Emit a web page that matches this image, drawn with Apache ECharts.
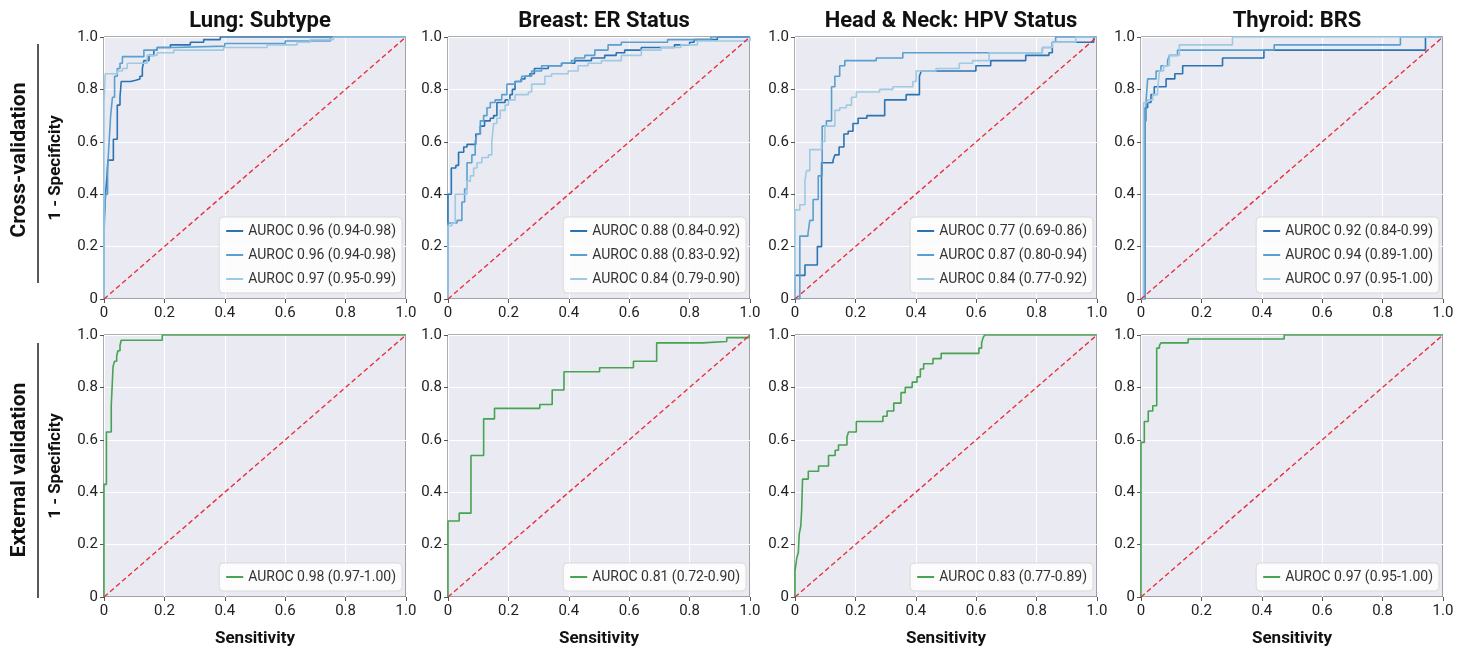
<!DOCTYPE html>
<html>
<head>
<meta charset="utf-8">
<script src="https://cdn.jsdelivr.net/npm/echarts@6/dist/echarts.min.js"></script>
<style>html,body{margin:0;padding:0;background:#fff}#c{width:1473px;height:652px}</style>
</head>
<body>
<div id="c"></div>
<script>
// ---------- data ----------
const panelTitles = ['Lung: Subtype', 'Breast: ER Status', 'Head & Neck: HPV Status', 'Thyroid: BRS'];
const rowTitles = ['Cross-validation', 'External validation'];
const tickValues = [0, 0.2, 0.4, 0.6, 0.8, 1.0];
const diagX = [0, 1];
const diagY = [0, 1];

// Lung CV
const lungCV1_fpr = [0, 0.005, 0.01, 0.013, 0.031, 0.044, 0.053, 0.057, 0.088, 0.105, 0.119, 0.127, 0.132, 0.149, 0.165, 0.176, 0.22, 0.286, 0.33, 0.385];
const lungCV1_tpr = [0.3, 0.4, 0.47, 0.53, 0.61, 0.74, 0.77, 0.83, 0.835, 0.84, 0.85, 0.88, 0.91, 0.93, 0.95, 0.96, 0.97, 0.98, 0.99, 1.0];
const lungCV2_fpr = [0, 0.005, 0.012, 0.017, 0.022, 0.028, 0.035, 0.044, 0.053, 0.061, 0.132, 0.176, 0.23, 0.4, 0.6, 0.75];
const lungCV2_tpr = [0.25, 0.4, 0.5, 0.6, 0.7, 0.77, 0.85, 0.88, 0.9, 0.925, 0.95, 0.96, 0.965, 0.975, 0.985, 1.0];
const lungCV3_fpr = [0, 0.004, 0.044, 0.061, 0.077, 0.143, 0.176, 0.231, 0.396, 0.54, 0.64, 0.683, 0.76];
const lungCV3_tpr = [0.75, 0.86, 0.87, 0.88, 0.9, 0.93, 0.94, 0.95, 0.96, 0.97, 0.98, 0.99, 1.0];
// Breast CV
const breastCV1_fpr = [0, 0.011, 0.026, 0.035, 0.052, 0.063, 0.092, 0.107, 0.121, 0.14, 0.151, 0.162, 0.189, 0.205, 0.213, 0.222, 0.242, 0.255, 0.271, 0.286, 0.332, 0.376, 0.42, 0.475, 0.519, 0.557, 0.585, 0.64, 0.75, 0.8, 0.815, 0.892];
const breastCV1_tpr = [0.4, 0.5, 0.51, 0.56, 0.58, 0.59, 0.63, 0.66, 0.68, 0.69, 0.7, 0.75, 0.76, 0.78, 0.8, 0.83, 0.84, 0.85, 0.86, 0.88, 0.89, 0.9, 0.91, 0.92, 0.93, 0.94, 0.95, 0.96, 0.97, 0.98, 0.99, 1.0];
const breastCV2_fpr = [0, 0.03, 0.046, 0.055, 0.063, 0.079, 0.09, 0.096, 0.107, 0.118, 0.129, 0.14, 0.156, 0.178, 0.195, 0.222, 0.244, 0.277, 0.31, 0.376, 0.409, 0.42, 0.453, 0.486, 0.53, 0.574, 0.727, 0.87];
const breastCV2_tpr = [0.29, 0.3, 0.37, 0.42, 0.52, 0.55, 0.6, 0.63, 0.68, 0.7, 0.73, 0.75, 0.76, 0.78, 0.82, 0.83, 0.85, 0.87, 0.89, 0.9, 0.91, 0.92, 0.93, 0.95, 0.97, 0.98, 0.99, 1.0];
const breastCV3_fpr = [0, 0.013, 0.024, 0.063, 0.074, 0.085, 0.096, 0.112, 0.134, 0.145, 0.151, 0.162, 0.173, 0.189, 0.2, 0.222, 0.266, 0.277, 0.321, 0.343, 0.398, 0.431, 0.464, 0.508, 0.574, 0.64, 0.705, 0.771, 0.826, 1.0];
const breastCV3_tpr = [0.28, 0.29, 0.4, 0.45, 0.47, 0.5, 0.52, 0.54, 0.55, 0.6, 0.67, 0.69, 0.72, 0.74, 0.76, 0.78, 0.79, 0.82, 0.85, 0.86, 0.87, 0.89, 0.9, 0.91, 0.93, 0.95, 0.96, 0.97, 0.985, 1.0];
// Head & Neck CV
const hnCV1_fpr = [0, 0.033, 0.074, 0.088, 0.126, 0.132, 0.146, 0.162, 0.176, 0.192, 0.209, 0.238, 0.297, 0.368, 0.412, 0.418, 0.599, 0.648, 0.764, 0.841, 0.852, 0.989];
const hnCV1_tpr = [0.09, 0.13, 0.2, 0.52, 0.53, 0.55, 0.58, 0.63, 0.64, 0.67, 0.69, 0.7, 0.76, 0.78, 0.85, 0.87, 0.89, 0.91, 0.93, 0.94, 0.98, 1.0];
const hnCV2_fpr = [0.016, 0.043, 0.049, 0.06, 0.077, 0.09, 0.104, 0.121, 0.132, 0.148, 0.165, 0.269, 0.357, 0.819, 0.852, 0.863];
const hnCV2_tpr = [0.24, 0.25, 0.3, 0.38, 0.47, 0.66, 0.68, 0.81, 0.85, 0.89, 0.91, 0.92, 0.94, 0.96, 0.98, 1.0];
const hnCV3_fpr = [0, 0.016, 0.033, 0.038, 0.049, 0.088, 0.099, 0.132, 0.148, 0.17, 0.187, 0.203, 0.28, 0.324, 0.39, 0.401, 0.467, 0.544, 0.588, 0.643, 0.819, 0.852, 0.93];
const hnCV3_tpr = [0.34, 0.36, 0.45, 0.49, 0.57, 0.6, 0.66, 0.72, 0.73, 0.74, 0.77, 0.79, 0.8, 0.81, 0.83, 0.87, 0.88, 0.9, 0.91, 0.94, 0.96, 0.98, 1.0];
// Thyroid CV
const thyCV1_fpr = [0.013, 0.022, 0.033, 0.044, 0.083, 0.112, 0.138, 0.27, 0.407, 0.942];
const thyCV1_tpr = [0.73, 0.75, 0.78, 0.81, 0.84, 0.86, 0.89, 0.92, 0.95, 1.0];
const thyCV2_fpr = [0.009, 0.017, 0.022, 0.05, 0.066, 0.088, 0.094, 0.121, 0.441, 0.859];
const thyCV2_tpr = [0.68, 0.76, 0.84, 0.87, 0.89, 0.91, 0.93, 0.95, 0.97, 1.0];
const thyCV3_fpr = [0.009, 0.022, 0.039, 0.055, 0.061, 0.075, 0.094, 0.127, 0.303];
const thyCV3_tpr = [0.75, 0.76, 0.78, 0.8, 0.87, 0.89, 0.93, 0.97, 1.0];
// External validation
const lungExt_fpr = [0, 0.008, 0.024, 0.03, 0.035, 0.042, 0.046, 0.053, 0.057, 0.193];
const lungExt_tpr = [0.43, 0.63, 0.73, 0.88, 0.9, 0.92, 0.94, 0.96, 0.98, 1.0];
const breastExt_fpr = [0, 0.037, 0.076, 0.118, 0.154, 0.304, 0.345, 0.384, 0.502, 0.614, 0.691, 0.843, 0.923, 0.997];
const breastExt_tpr = [0.29, 0.32, 0.54, 0.68, 0.72, 0.735, 0.79, 0.86, 0.875, 0.9, 0.97, 0.975, 0.99, 1.0];
const hnExt_fpr = [0, 0.006, 0.011, 0.014, 0.019, 0.022, 0.025, 0.044, 0.078, 0.111, 0.133, 0.144, 0.172, 0.177, 0.203, 0.291, 0.305, 0.327, 0.351, 0.365, 0.388, 0.404, 0.415, 0.426, 0.457, 0.484, 0.609, 0.618, 0.623, 0.628];
const hnExt_tpr = [0.1, 0.15, 0.17, 0.24, 0.27, 0.33, 0.45, 0.48, 0.5, 0.54, 0.56, 0.58, 0.61, 0.63, 0.67, 0.69, 0.71, 0.74, 0.78, 0.8, 0.82, 0.84, 0.87, 0.89, 0.91, 0.93, 0.95, 0.97, 0.99, 1.0];
const thyExt_fpr = [0, 0.011, 0.024, 0.039, 0.052, 0.061, 0.066, 0.156, 0.474];
const thyExt_tpr = [0.59, 0.67, 0.71, 0.73, 0.95, 0.96, 0.97, 0.985, 1.0];

// legend labels
const lungCV_labels = ['AUROC 0.96 (0.94-0.98)', 'AUROC 0.96 (0.94-0.98)', 'AUROC 0.97 (0.95-0.99)'];
const breastCV_labels = ['AUROC 0.88 (0.84-0.92)', 'AUROC 0.88 (0.83-0.92)', 'AUROC 0.84 (0.79-0.90)'];
const hnCV_labels = ['AUROC 0.77 (0.69-0.86)', 'AUROC 0.87 (0.80-0.94)', 'AUROC 0.84 (0.77-0.92)'];
const thyCV_labels = ['AUROC 0.92 (0.84-0.99)', 'AUROC 0.94 (0.89-1.00)', 'AUROC 0.97 (0.95-1.00)'];
const ext_labels = ['AUROC 0.98 (0.97-1.00)', 'AUROC 0.81 (0.72-0.90)', 'AUROC 0.83 (0.77-0.89)', 'AUROC 0.97 (0.95-1.00)'];

// ---------- styling / layout ----------
const blueColors = ['#2b73b2', '#5a9fd0', '#9ecae4'];
const greenColor = '#46a352';
const redColor = '#e8303f';
const FONT = 'Roboto';
const W = 1473, H = 652;
const colLeft = [104, 448, 795, 1141];
const rowTop = [37, 335];
const gw = 302, gh = 262;

const panels = [
  {row: 0, col: 0, curves: [[lungCV1_fpr, lungCV1_tpr], [lungCV2_fpr, lungCV2_tpr], [lungCV3_fpr, lungCV3_tpr]], labels: lungCV_labels},
  {row: 0, col: 1, curves: [[breastCV1_fpr, breastCV1_tpr], [breastCV2_fpr, breastCV2_tpr], [breastCV3_fpr, breastCV3_tpr]], labels: breastCV_labels},
  {row: 0, col: 2, curves: [[hnCV1_fpr, hnCV1_tpr], [hnCV2_fpr, hnCV2_tpr], [hnCV3_fpr, hnCV3_tpr]], labels: hnCV_labels},
  {row: 0, col: 3, curves: [[thyCV1_fpr, thyCV1_tpr], [thyCV2_fpr, thyCV2_tpr], [thyCV3_fpr, thyCV3_tpr]], labels: thyCV_labels},
  {row: 1, col: 0, curves: [[lungExt_fpr, lungExt_tpr]], labels: [ext_labels[0]]},
  {row: 1, col: 1, curves: [[breastExt_fpr, breastExt_tpr]], labels: [ext_labels[1]]},
  {row: 1, col: 2, curves: [[hnExt_fpr, hnExt_tpr]], labels: [ext_labels[2]]},
  {row: 1, col: 3, curves: [[thyExt_fpr, thyExt_tpr]], labels: [ext_labels[3]]}
];

function stepPoints(fpr, tpr) {
  const pts = [[0, 0]];
  let prev = 0;
  for (let i = 0; i < fpr.length; i++) {
    pts.push([fpr[i], prev]);
    pts.push([fpr[i], tpr[i]]);
    prev = tpr[i];
  }
  pts.push([1, prev]);
  return pts;
}

const labelMap = {};
const grids = [], xAxes = [], yAxes = [], series = [], legends = [], titles = [];

panels.forEach((p, i) => {
  const left = colLeft[p.col], top = rowTop[p.row];
  grids.push({left: left, top: top, width: gw, height: gh, show: true, backgroundColor: '#eaeaf2', borderColor: '#5a5a5a', borderWidth: 1, containLabel: false});
  xAxes.push({
    type: 'value', gridIndex: i, min: 0, max: 1, interval: 0.2,
    name: p.row === 1 ? 'Sensitivity' : '', nameLocation: 'middle', nameGap: 33,
    nameTextStyle: {fontFamily: FONT, fontWeight: 'bold', fontSize: 17, color: '#111'},
    axisLine: {show: false}, axisTick: {show: true, length: 4, lineStyle: {color: '#555'}},
    axisLabel: {fontFamily: FONT, fontSize: 15, color: '#222', margin: 7, formatter: v => v === 0 ? '0' : v.toFixed(1)},
    splitLine: {show: true, lineStyle: {color: '#ffffff', width: 1}}
  });
  yAxes.push({
    type: 'value', gridIndex: i, min: 0, max: 1, interval: 0.2,
    name: p.col === 0 ? '1 - Specificity' : '', nameLocation: 'middle', nameGap: 40, nameRotate: 90,
    nameTextStyle: {fontFamily: FONT, fontWeight: 'bold', fontSize: 17, color: '#111'},
    axisLine: {show: false}, axisTick: {show: true, length: 4, lineStyle: {color: '#555'}},
    axisLabel: {fontFamily: FONT, fontSize: 15, color: '#222', margin: 6, formatter: v => v === 0 ? '0' : v.toFixed(1)},
    splitLine: {show: true, lineStyle: {color: '#ffffff', width: 1}}
  });
  const names = [];
  p.curves.forEach((c, k) => {
    const nm = 'p' + i + 'c' + k;
    labelMap[nm] = p.labels[k];
    names.push(nm);
    series.push({
      name: nm, type: 'line', xAxisIndex: i, yAxisIndex: i,
      data: stepPoints(c[0], c[1]), showSymbol: false, symbol: 'none',
      lineStyle: {width: 1.6, color: p.row === 0 ? blueColors[k] : greenColor},
      itemStyle: {color: p.row === 0 ? blueColors[k] : greenColor},
      animation: false, z: 3
    });
  });
  series.push({
    type: 'line', xAxisIndex: i, yAxisIndex: i,
    data: diagX.map((x, j) => [x, diagY[j]]), showSymbol: false, symbol: 'none',
    lineStyle: {width: 1.4, color: redColor, type: [5, 3]}, animation: false, z: 4, silent: true
  });
  legends.push({
    data: names, orient: 'vertical', selectedMode: false,
    right: W - (left + gw) + 4, bottom: H - (top + gh) + 6,
    icon: 'rect', itemWidth: 17, itemHeight: 2, itemGap: 10,
    backgroundColor: 'rgba(255,255,255,0.85)', borderColor: '#d9d9d9', borderWidth: 1, borderRadius: 4,
    padding: [7, 6, 7, 7],
    textStyle: {fontFamily: FONT, fontSize: 14, color: '#333'},
    formatter: n => labelMap[n]
  });
});

panelTitles.forEach((t, c) => {
  titles.push({text: t, left: colLeft[c] + gw / 2, top: 5, textAlign: 'center',
    textStyle: {fontFamily: FONT, fontWeight: 'bold', fontSize: 22, color: '#111'}});
});

const graphic = [
  {type: 'text', x: 20, y: 160, rotation: Math.PI / 2,
   style: {text: rowTitles[0], font: 'bold 21px Roboto', fill: '#111', align: 'center', verticalAlign: 'middle'}},
  {type: 'line', shape: {x1: 38, y1: 44, x2: 38, y2: 283}, style: {stroke: '#222', lineWidth: 1.5}},
  {type: 'text', x: 20, y: 470, rotation: Math.PI / 2,
   style: {text: rowTitles[1], font: 'bold 21px Roboto', fill: '#111', align: 'center', verticalAlign: 'middle'}},
  {type: 'line', shape: {x1: 38, y1: 343, x2: 38, y2: 598}, style: {stroke: '#222', lineWidth: 1.5}}
];

const chart = echarts.init(document.getElementById('c'), null, {renderer: 'canvas'});
chart.setOption({
  animation: false,
  backgroundColor: '#ffffff',
  textStyle: {fontFamily: FONT},
  title: titles, grid: grids, xAxis: xAxes, yAxis: yAxes, legend: legends, series: series, graphic: graphic
});
</script>
</body>
</html>
